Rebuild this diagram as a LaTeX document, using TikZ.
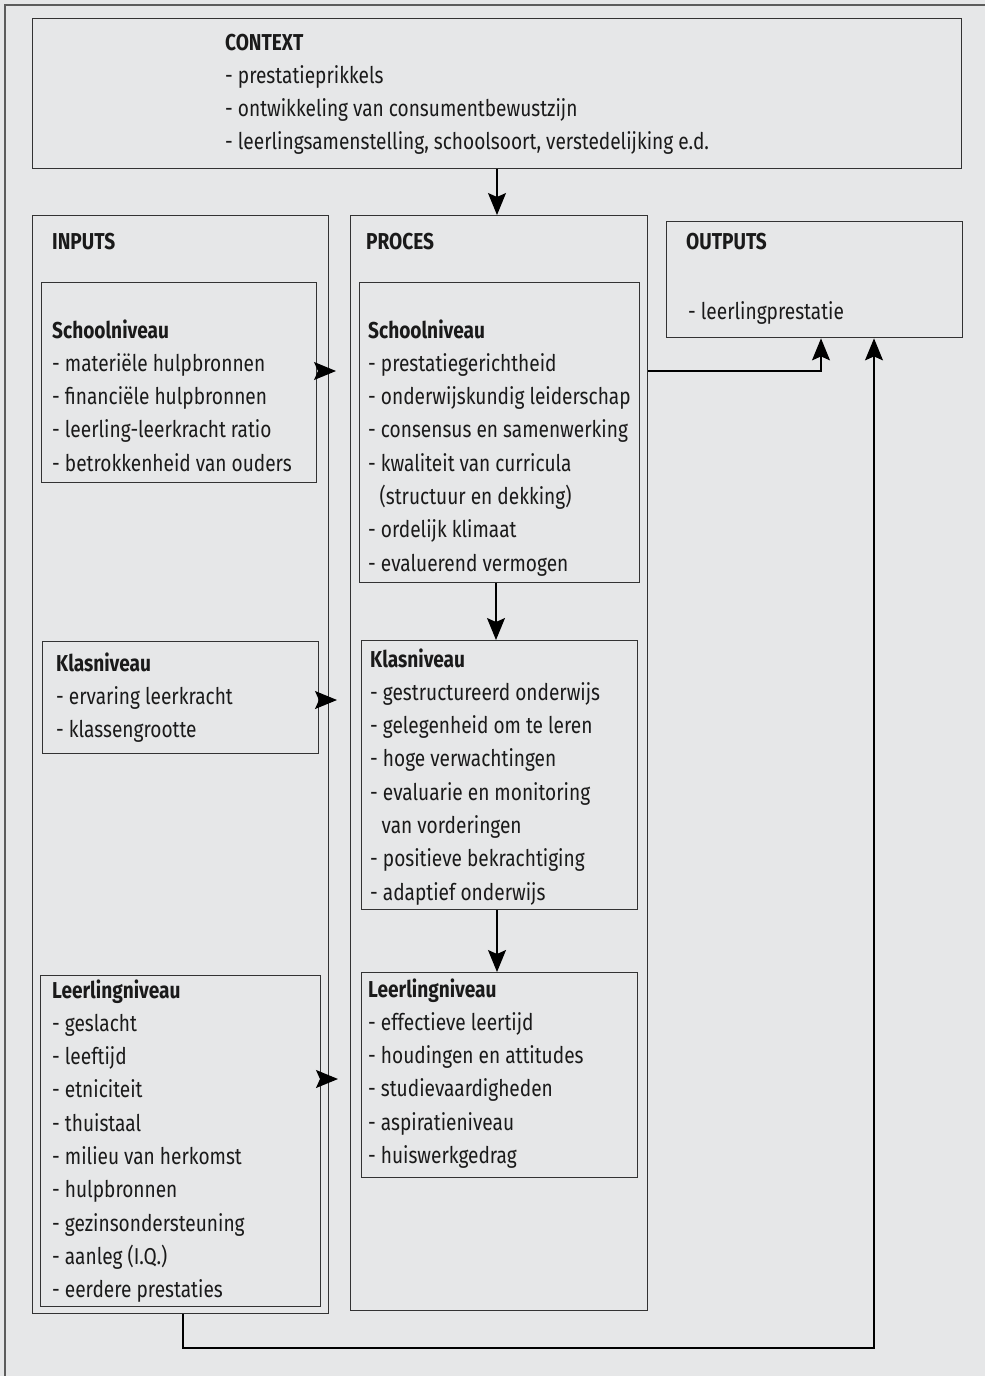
\documentclass[tikz,border=0pt]{standalone}
\usepackage{fontspec}
\setmainfont[FakeStretch=0.83]{Fira Sans}
\usetikzlibrary{arrows.meta}
\definecolor{bg}{HTML}{E6E7E8}
\definecolor{ln}{HTML}{333333}
\definecolor{tx}{HTML}{1A1A1A}
\tikzset{
  box/.style={draw=ln, line width=1.4pt, fill=none, inner sep=0pt, anchor=north west},
  txt/.style={anchor=base west, inner sep=0pt, text=tx, font=\fontsize{23}{33.3}\selectfont},
  arr/.style={draw=black, line width=1.2pt, -{Stealth[length=22pt,width=18pt,inset=4pt]}},
  ln/.style={draw=black, line width=1.2pt}
}
\newcommand{\blk}[1]{\begin{tabular}[t]{@{}l@{}}#1\end{tabular}}
\begin{document}
\begin{tikzpicture}[x=1pt,y=-1pt]
\useasboundingbox (0,0) rectangle (985,1376);
\fill[bg] (0,0) rectangle (985,1376);
\draw[ln, draw=ln!80, line width=1.4pt] (5,1400) -- (5,5) -- (1000,5);
% boxes
\node[box, minimum width=929pt, minimum height=150pt] (ctx) at (32,18) {};
\node[box, minimum width=296pt, minimum height=1098pt] (inp) at (32,215) {};
\node[box, minimum width=297pt, minimum height=1095pt] (proc) at (350,215) {};
\node[box, minimum width=296pt, minimum height=116pt] (out) at (666,221) {};
\node[box, minimum width=275pt, minimum height=200pt] (isch) at (41,282) {};
\node[box, minimum width=276pt, minimum height=112pt] (ikl) at (42,641) {};
\node[box, minimum width=280pt, minimum height=331pt] (ill) at (40,975) {};
\node[box, minimum width=280pt, minimum height=300pt] (psch) at (359,282) {};
\node[box, minimum width=276pt, minimum height=269pt] (pkl) at (361,640) {};
\node[box, minimum width=276pt, minimum height=205pt] (pll) at (361,972) {};
% texts
\node[txt] (tctx) at (225,50) {\blk{\textbf{CONTEXT}\\- prestatieprikkels\\- ontwikkeling van consumentbewustzijn\\- leerlingsamenstelling, schoolsoort, verstedelijking e.d.}};
\node[txt] (tinp) at (52,249) {\textbf{INPUTS}};
\node[txt] (tproc) at (366,249) {\textbf{PROCES}};
\node[txt] (tout) at (686,249) {\textbf{OUTPUTS}};
\node[txt] (tout2) at (688,319) {- leerlingprestatie};
\node[txt] (tisch) at (52,338) {\blk{\textbf{Schoolniveau}\\- materiële hulpbronnen\\- financiële hulpbronnen\\- leerling-leerkracht ratio\\- betrokkenheid van ouders}};
\node[txt] (tikl) at (56,671) {\blk{\textbf{Klasniveau}\\- ervaring leerkracht\\- klassengrootte}};
\node[txt] (till) at (52,998) {\blk{\textbf{Leerlingniveau}\\- geslacht\\- leeftijd\\- etniciteit\\- thuistaal\\- milieu van herkomst\\- hulpbronnen\\- gezinsondersteuning\\- aanleg (I.Q.)\\- eerdere prestaties}};
\node[txt] (tpsch) at (368,338) {\blk{\textbf{Schoolniveau}\\- prestatiegerichtheid\\- onderwijskundig leiderschap\\- consensus en samenwerking\\- kwaliteit van curricula\\\hspace*{0.5em}(structuur en dekking)\\- ordelijk klimaat\\- evaluerend vermogen}};
\node[txt] (tpkl) at (370,667) {\blk{\textbf{Klasniveau}\\- gestructureerd onderwijs\\- gelegenheid om te leren\\- hoge verwachtingen\\- evaluarie en monitoring\\\hspace*{0.5em}van vorderingen\\- positieve bekrachtiging\\- adaptief onderwijs}};
\node[txt] (tpll) at (368,997) {\blk{\textbf{Leerlingniveau}\\- effectieve leertijd\\- houdingen en attitudes\\- studievaardigheden\\- aspiratieniveau\\- huiswerkgedrag}};
% connectors
\draw[arr] (ctx.south -| 497,0) -- (proc.north -| 497,0);
\draw[arr] (psch.south -| 496,0) -- (pkl.north -| 496,0);
\draw[arr] (pkl.south -| 497,0) -- (pll.north -| 497,0);
\coordinate (a1s) at (318,371); \coordinate (a1e) at (336,371);
\coordinate (a2s) at (319,700); \coordinate (a2e) at (337,700);
\coordinate (a3s) at (320,1079); \coordinate (a3e) at (338,1079);
\draw[arr] (a1s) -- (a1e);
\draw[arr] (a2s) -- (a2e);
\draw[arr] (a3s) -- (a3e);
\coordinate (o1) at (821,371);
\draw[arr] (proc.east |- o1) -| (out.south -| o1);
\coordinate (b1) at (183,1348);
\coordinate (b2) at (874,1348);
\draw[arr] (inp.south -| b1) -- (b1) -- (b2) -- (out.south -| b2);
\end{tikzpicture}
\end{document}
